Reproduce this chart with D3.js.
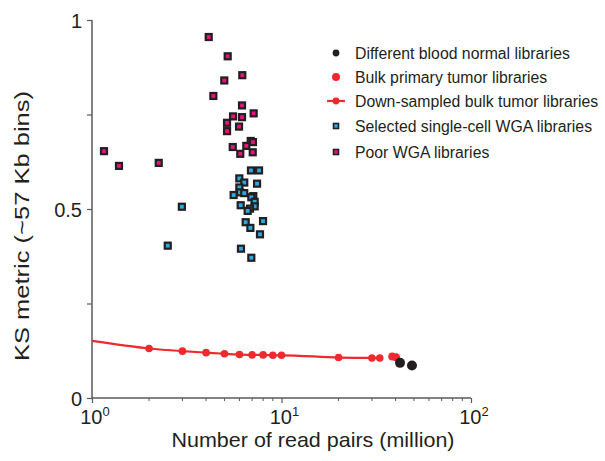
<!DOCTYPE html>
<html>
<head>
<meta charset="utf-8">
<script src="https://cdn.jsdelivr.net/npm/d3@7"></script>
<style>
  body { margin: 0; background: #fff; }
  text { font-family: "Liberation Sans", Arial, sans-serif; fill: #231f20; }
</style>
</head>
<body>
<script>
// Down-sampled bulk tumor library (read pairs in million, KS metric)
var downX = [1, 2, 3, 4, 5, 6, 7, 8, 9, 10, 20, 30, 33];
var downY = [0.151, 0.131, 0.124, 0.120, 0.117, 0.115, 0.114, 0.114, 0.113, 0.113, 0.107, 0.106, 0.106];

// Bulk primary tumor libraries
var bulkX = [38.4, 40.2];
var bulkY = [0.110, 0.108];

// Different blood normal libraries
var normalX = [42.2, 48.8];
var normalY = [0.093, 0.086];

// Selected single-cell WGA libraries
var wgaX = [6.90, 7.61, 5.99, 6.36, 7.43, 5.99, 6.04, 6.36, 5.59, 7.10, 6.93, 7.22, 6.09, 7.22, 6.82, 6.63, 2.98, 6.47, 7.99, 6.85, 7.70, 2.51, 6.11, 6.93];
var wgaY = [0.602, 0.602, 0.581, 0.570, 0.567, 0.557, 0.544, 0.542, 0.537, 0.534, 0.531, 0.519, 0.510, 0.507, 0.501, 0.495, 0.506, 0.465, 0.468, 0.450, 0.433, 0.403, 0.395, 0.371];

// Poor WGA libraries
var poorX = [4.13, 5.20, 6.21, 4.99, 4.37, 6.19, 7.13, 5.55, 6.19, 5.16, 5.97, 5.16, 6.88, 7.07, 5.53, 6.52, 6.06, 7.05, 1.157, 1.388, 2.25];
var poorY = [0.955, 0.904, 0.854, 0.840, 0.799, 0.774, 0.753, 0.745, 0.743, 0.728, 0.718, 0.706, 0.680, 0.677, 0.664, 0.667, 0.646, 0.650, 0.653, 0.614, 0.622];

var legendLabels = ["Different blood normal libraries", "Bulk primary tumor libraries",
    "Down-sampled bulk tumor libraries", "Selected single-cell WGA libraries", "Poor WGA libraries"];

var yTicks = [0, 0.5, 1];
var yMinor = [0.25, 0.75];
var xTicks = [1, 10, 100];

var red = "#ee2a2e", black = "#231f20", blue = "#29aae1", pink = "#e8137f";

var width = 605, height = 461;
var svg = d3.select("body").append("svg")
    .attr("width", width)
    .attr("height", height);

var x = d3.scaleLog().domain([1, 100]).range([92, 471]);
var y = d3.scaleLinear().domain([0, 1]).range([398, 20]);

////////////////////////////
// Axes
var axisColor = "#5a5a5a";

var yAxis = svg.append("g").attr("transform", "translate(92,0)")
    .call(d3.axisLeft(y).tickValues(yTicks.concat(yMinor)).tickSize(5)
        .tickFormat(function(d) { return yTicks.indexOf(d) >= 0 ? d3.format("")(d) : ""; }));
yAxis.select(".domain").attr("stroke", axisColor).attr("stroke-width", 1.5).attr("d", "M0,20V398");
yAxis.selectAll(".tick line").attr("stroke", axisColor).attr("stroke-width", 1.2);
yAxis.selectAll(".tick text").attr("font-size", 20).attr("x", -10).attr("dy", "0.35em")
    .style("font-family", "Liberation Sans, Arial, sans-serif").attr("fill", black);

var minorX = [];
[1, 10].forEach(function(b) { for (var k = 2; k <= 9; k++) minorX.push(b * k); });

var xAxis = svg.append("g").attr("transform", "translate(0,398)")
    .call(d3.axisBottom(x).tickValues(xTicks).tickSize(5).tickFormat(""));
xAxis.select(".domain").attr("stroke", axisColor).attr("stroke-width", 1.5).attr("d", "M92,0H471");
xAxis.selectAll(".tick line").attr("stroke", axisColor).attr("stroke-width", 1.2);

xAxis.selectAll(".minor")
    .data(minorX)
    .enter()
    .append("line")
    .attr("class", "minor")
    .attr("x1", function(d) { return x(d); })
    .attr("x2", function(d) { return x(d); })
    .attr("y1", 0).attr("y2", 3)
    .attr("stroke", axisColor).attr("stroke-width", 1);

var xLabels = svg.selectAll(".xlab")
    .data(xTicks)
    .enter()
    .append("text")
    .attr("class", "xlab")
    .attr("x", function(d) { return x(d) + 3; })
    .attr("y", 424)
    .attr("text-anchor", "middle")
    .attr("font-size", 20);
xLabels.append("tspan").text("10");
xLabels.append("tspan").attr("dy", -8).attr("font-size", 13)
    .text(function(d) { return Math.round(Math.log10(d)); });

svg.append("text")
    .attr("x", 313).attr("y", 447)
    .attr("text-anchor", "middle")
    .attr("font-size", 21)
    .attr("textLength", 283)
    .attr("lengthAdjust", "spacingAndGlyphs")
    .text("Number of read pairs (million)");

svg.append("text")
    .attr("transform", "translate(29,226) rotate(-90)")
    .attr("text-anchor", "middle")
    .attr("font-size", 20.5)
    .attr("textLength", 270)
    .attr("lengthAdjust", "spacingAndGlyphs")
    .text("KS metric (~57 Kb bins)");

////////////////////////////
// Down-sampled line and points
var downData = downX.map(function(d, i) { return { x: d, y: downY[i] }; });
var line = d3.line()
    .x(function(d) { return x(d.x); })
    .y(function(d) { return y(d.y); })
    .curve(d3.curveMonotoneX);

svg.append("path")
    .datum(downData)
    .attr("d", line)
    .attr("fill", "none")
    .attr("stroke", red)
    .attr("stroke-width", 2.2);

svg.selectAll(".downPt")
    .data(downData.slice(1))
    .enter()
    .append("circle")
    .attr("cx", function(d) { return x(d.x); })
    .attr("cy", function(d) { return y(d.y); })
    .attr("r", 3.8)
    .style("fill", red);

svg.selectAll(".bulkPt")
    .data(bulkX)
    .enter()
    .append("circle")
    .attr("cx", function(d) { return x(d); })
    .attr("cy", function(d, i) { return y(bulkY[i]); })
    .attr("r", 4)
    .style("fill", red);

svg.selectAll(".normalPt")
    .data(normalX)
    .enter()
    .append("circle")
    .attr("cx", function(d) { return x(d); })
    .attr("cy", function(d, i) { return y(normalY[i]); })
    .attr("r", 5)
    .style("fill", black);

////////////////////////////
// Square markers
function squares(xs, ys, color) {
    svg.append("g").selectAll("rect")
        .data(xs)
        .enter()
        .append("rect")
        .attr("x", function(d) { return x(d) - 3; })
        .attr("y", function(d, i) { return y(ys[i]) - 3; })
        .attr("width", 6)
        .attr("height", 6)
        .style("fill", color)
        .style("stroke", black)
        .style("stroke-width", 2.2);
}
squares(poorX, poorY, pink);
squares(wgaX, wgaY, blue);

////////////////////////////
// Legend
var legY = [53, 77, 101, 126, 152];
var leg = svg.append("g");
leg.selectAll("text")
    .data(legendLabels)
    .enter()
    .append("text")
    .attr("x", 355)
    .attr("y", function(d, i) { return legY[i] + 5.5; })
    .attr("font-size", 15.8)
    .text(function(d) { return d; });

leg.append("circle").attr("cx", 336).attr("cy", legY[0]).attr("r", 3.4).style("fill", black);
leg.append("circle").attr("cx", 336).attr("cy", legY[1]).attr("r", 4).style("fill", red);
leg.append("line").attr("x1", 327).attr("x2", 345).attr("y1", legY[2]).attr("y2", legY[2])
    .attr("stroke", red).attr("stroke-width", 2.2);
leg.append("circle").attr("cx", 336).attr("cy", legY[2]).attr("r", 3.4).style("fill", red);
[[legY[3], blue], [legY[4], pink]].forEach(function(p) {
    leg.append("rect").attr("x", 333.5).attr("y", p[0] - 2.5)
        .attr("width", 5).attr("height", 5)
        .style("fill", p[1]).style("stroke", black).style("stroke-width", 1.6);
});
</script>
</body>
</html>
